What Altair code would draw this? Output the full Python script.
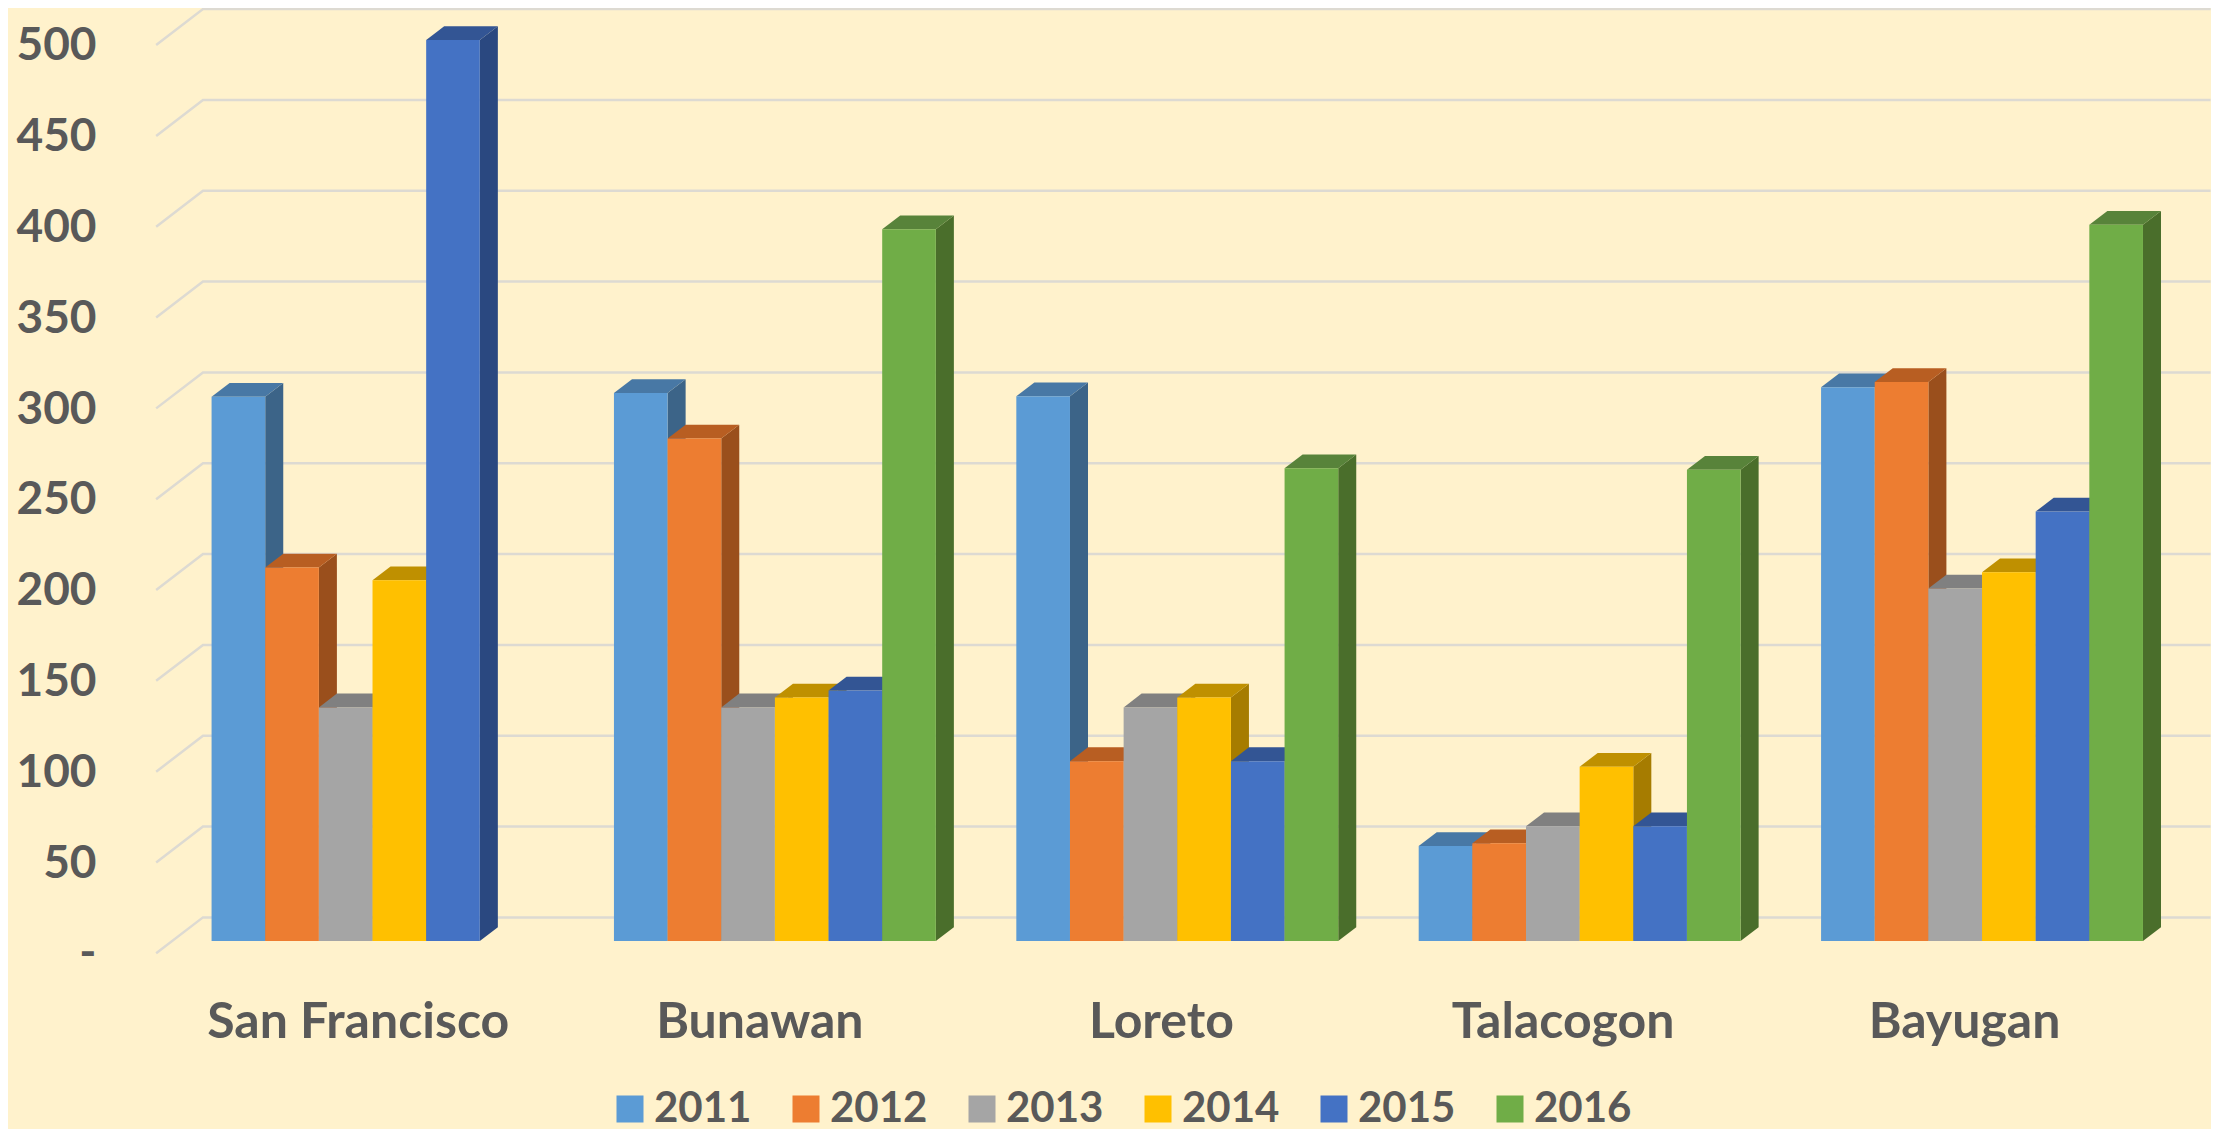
import json
import altair as alt
import pandas as pd

CITIES = ["San Francisco", "Bunawan", "Loreto", "Talacogon", "Bayugan"]
YEARS = ["2011", "2012", "2013", "2014", "2015", "2016"]
V2011 = [299.6, 301.6, 299.9, 52.3, 304.8]
V2012 = [205.6, 276.6, 99.0, 53.8, 307.7]
V2013 = [128.6, 128.6, 128.6, 63.2, 194.0]
V2014 = [198.6, 134.0, 134.0, 95.9, 203.0]
V2015 = [496.0, 137.9, 99.0, 63.2, 236.4]
V2016 = [None, 391.8, 260.2, 259.4, 394.3]
SERIES = [V2011, V2012, V2013, V2014, V2015, V2016]
FRONT = ["#5B9BD5", "#ED7D31", "#A5A5A5", "#FFC000", "#4472C4", "#70AD47"]
TOP = ["#4878A5", "#B85E22", "#808080", "#BF9000", "#335594", "#58833A"]
SIDE = ["#3C6488", "#9A4F1C", "#6B6B6B", "#A67C00", "#2A4880", "#4A6E2B"]
TICKS = [0, 50, 100, 150, 200, 250, 300, 350, 400, 450, 500]

BG = "#FFF2CC"
TEXT = "#595959"
GRID = "#DDDAD2"
FONT = "Lato"

PITCH = 7.5          # one category, in bar widths
DEPTH_X = 0.336      # bar depth, in bar widths
DEPTH_Y = 7.6        # bar depth, in value units
BACK_Y = 13.0        # rear wall above the bar baseline, in value units
SLANT_Y = 19.8       # drop of the floor edge, in value units
GRID_LEFT, GRID_BACK, GRID_RIGHT = -1.033, -0.16, 37.26
LABEL_POS = [2.725 + 7.485 * i for i in range(len(CITIES))]

x_scale = alt.Scale(domain=[-1.856, 37.268], nice=False, zero=False)
y_scale = alt.Scale(domain=[-32.48, 513.6], nice=False, zero=False)

label_expr = "%s[round((datum.value-2.725)/7.485)]" % json.dumps(CITIES)
x_axis = alt.Axis(
    values=LABEL_POS, labelExpr=label_expr, title=None, domain=False, ticks=False,
    grid=False, labelFont=FONT, labelFontSize=50, labelFontWeight="bold",
    labelColor=TEXT, labelPadding=-3, labelOverlap=False, labelBound=False, labelFlush=False,
    labelLimit=500,
)
y_axis = alt.Axis(
    values=TICKS, labelExpr="datum.value==0?'-':datum.label", title=None, domain=False,
    ticks=False, grid=False, labelFont=FONT, labelFontSize=46, labelFontWeight="bold",
    labelColor=TEXT, labelPadding=16, labelOffset=13, labelOverlap=False, labelBound=False,
)
X = alt.X("x:Q", scale=x_scale, axis=x_axis)
Y = alt.Y("y:Q", scale=y_scale, axis=y_axis, stack=None)

grid_rows = []
for t in TICKS:
    grid_rows += [
        {"t": t, "x": GRID_LEFT, "y": t + BACK_Y - SLANT_Y},
        {"t": t, "x": GRID_BACK, "y": t + BACK_Y},
        {"t": t, "x": GRID_RIGHT, "y": t + BACK_Y},
    ]
layers = [
    alt.Chart(pd.DataFrame(grid_rows)).mark_line(color=GRID, strokeWidth=2.5).encode(
        x=X, y=Y, detail="t:N"
    )
]

for j, (year, vals) in enumerate(zip(YEARS, SERIES)):
    side, top, front = [], [], []
    for i, v in enumerate(vals):
        if v is None:
            continue
        x0 = PITCH * i + j
        x1 = x0 + 1
        side += [
            {"g": i, "x": x1, "y": 0, "y2": v},
            {"g": i, "x": x1 + DEPTH_X, "y": DEPTH_Y, "y2": v + DEPTH_Y},
        ]
        top += [
            {"g": i, "x": x0, "y": v, "y2": v},
            {"g": i, "x": x0 + DEPTH_X, "y": v, "y2": v + DEPTH_Y},
            {"g": i, "x": x1, "y": v, "y2": v + DEPTH_Y},
            {"g": i, "x": x1 + DEPTH_X, "y": v + DEPTH_Y, "y2": v + DEPTH_Y},
        ]
        front.append({"x": x0, "x2": x1, "y": 0, "y2": v, "year": year})
    layers.append(
        alt.Chart(pd.DataFrame(side)).mark_area(color=SIDE[j], opacity=1).encode(
            x=X, y=Y, y2="y2:Q", detail="g:N"
        )
    )
    layers.append(
        alt.Chart(pd.DataFrame(top)).mark_area(color=TOP[j], opacity=1).encode(
            x=X, y=Y, y2="y2:Q", detail="g:N"
        )
    )
    layers.append(
        alt.Chart(pd.DataFrame(front)).mark_bar(opacity=1).encode(
            x=X, x2="x2:Q", y=Y, y2="y2:Q",
            color=alt.Color(
                "year:N",
                scale=alt.Scale(domain=YEARS, range=FRONT),
                legend=alt.Legend(
                    orient="none", legendX=497, legendY=1080, direction="horizontal",
                    columns=6, title=None, symbolType="square", symbolSize=729,
                    symbolStrokeWidth=0, symbolOpacity=1, labelFont=FONT, labelFontSize=42,
                    labelFontWeight="bold", labelColor=TEXT, labelOffset=3,
                    columnPadding=33, padding=0, labelLimit=200, gridAlign="none",
                ),
            ),
        )
    )

chart = (
    alt.layer(*layers)
    .properties(
        width=2099,
        height=992,
        background=BG,
        padding={"left": 104, "top": 0, "right": 0, "bottom": 129},
        autosize=alt.AutoSizeParams(type="none"),
    )
    .configure_view(stroke=None)
)
chart.save("out.html", embed_options={"renderer": "svg", "actions": False})
